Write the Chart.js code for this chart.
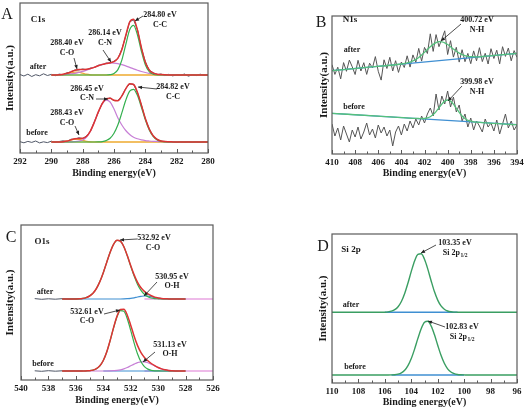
<!DOCTYPE html>
<html><head><meta charset="utf-8">
<script src="https://cdn.jsdelivr.net/npm/chart.js@4.4.1/dist/chart.umd.min.js"></script>
<style>
html,body{margin:0;padding:0;background:#fff;overflow:hidden;width:524px;height:409px;}
canvas{position:absolute;}
</style></head><body>
<canvas id="cA" width="218" height="179" style="left:0px;top:0px;width:218px;height:179px"></canvas>
<canvas id="cB" width="218" height="179" style="left:310px;top:0px;width:218px;height:179px"></canvas>
<canvas id="cC" width="224" height="206" style="left:0px;top:200px;width:224px;height:206px"></canvas>
<canvas id="cD" width="218" height="208" style="left:310px;top:200px;width:218px;height:208px"></canvas>
<script>
// ---------- Panel A : C1s ----------
const gridA = [290,289.75,289.5,289.25,289,288.75,288.5,288.25,288,287.75,287.5,287.25,287,286.75,286.5,286.25,286,285.75,285.5,285.25,285,284.75,284.5,284.25,284,283.75,283.5,283.25,283,282.75,282.5,282.25,282,281,280];
const envAfterA = [0.1,0.1,0.3,0.7,1.7,3.1,4.6,5.4,5.4,5.7,6.5,7.8,9.3,10.6,11.5,12.3,13.3,16.8,25.3,39.5,52.9,55.8,44.7,27.2,12.8,5.0,1.9,0.8,0.4,0.2,0.1,0.1,0,0,0];
const ccAfterA  = [0,0,0,0,0,0,0,0,0,0,0,0,0,0,0,0.3,1.4,5.4,14.9,30.4,45.3,49.7,40.0,23.7,10.3,3.3,0.8,0.1,0,0,0,0,0,0,0];
const cnAfterA  = [0.1,0.1,0.2,0.4,0.7,1.1,1.7,2.6,3.6,4.9,6.3,7.8,9.3,10.6,11.5,12.0,11.9,11.4,10.4,9.1,7.6,6.1,4.7,3.5,2.5,1.7,1.1,0.7,0.4,0.2,0.1,0.1,0,0,0];
const coAfterA  = [0,0,0.1,0.3,1.0,2.0,2.9,2.8,1.8,0.8,0.2,0,0,0,0,0,0,0,0,0,0,0,0,0,0,0,0,0,0,0,0,0,0,0,0];
const envBeforeA = [0,0,0,0.3,0.9,2.1,3.2,3.5,3.7,5.7,11.2,20.0,30.1,38.4,43.2,43.7,41.7,41.2,46.1,53.2,58.3,57.5,49.6,36.8,23.5,13.0,6.2,2.6,1.0,0.4,0.2,0.1,0,0,0];
const ccBeforeA  = [0,0,0,0,0,0,0,0,0,0,0,0,0.1,0.4,1.4,3.7,8.7,17.2,29.1,41.7,50.8,52.7,46.4,34.7,22.1,12.0,5.5,2.1,0.7,0.2,0.1,0,0,0,0];
const cnBeforeA  = [0,0,0,0,0,0.1,0.3,0.8,2.0,5.0,11.0,20.0,30.0,38.0,41.8,40.0,33.0,24.0,17.0,11.5,7.5,4.8,3.2,2.1,1.4,1.0,0.7,0.5,0.3,0.2,0.1,0.1,0,0,0];
const coBeforeA  = [0,0,0,0.3,0.9,2.0,2.9,2.7,1.7,0.7,0.2,0,0,0,0,0,0,0,0,0,0,0,0,0,0,0,0,0,0,0,0,0,0,0,0];
const rawEA = [292,291.75,291.5,291.25,291,290.75,290.5,290.25,290,289.75,289.5,289.25,289,288.75,288.5,288.25,288,287.75,287.5,287.25,287,286.75,286.5,286.25,286,285.75,285.5,285.25,285,284.75,284.5,284.25,284,283.75,283.5,283.25,283,282.75,282.5,282.25,282,281.75,281.5,281.25,281,280.75,280.5,280.25,280];
const rawAfterA = [0.5,-1.0,0.8,-1.5,0.3,-0.8,1.2,-0.5,0.6,-0.7,0.9,0.2,2.2,3.0,5.0,5.0,6.0,5.3,7.0,7.5,9.8,10.2,12.0,11.8,13.8,16.5,25.8,39.0,53.3,55.2,45.2,26.8,13.3,4.6,2.4,0.4,1.0,-0.6,0.7,-0.9,0.4,-0.4,1.0,-1.2,0.3,-0.6,0.8,-0.3,0.2];
const rawBeforeA = [0.3,-0.8,0.6,-0.4,1.0,-0.9,0.2,-0.6,0.8,-0.3,0.5,1.2,0.4,2.8,2.6,4.3,3.4,6.2,10.8,20.5,29.6,38.9,42.8,44.1,41.3,41.6,45.7,53.6,57.9,57.8,49.2,37.1,23.2,13.3,5.9,2.9,0.8,0.6,-0.3,0.4,-0.5,0.3,-0.2,0.5,-0.4,0.2,-0.3,0.3,0.0];
const baseEA = [290,280];
const baseVA = [0,0];

// ---------- Panel B : N1s ----------
const rawEB = [410,409.75,409.5,409.25,409,408.75,408.5,408.25,408,407.75,407.5,407.25,407,406.75,406.5,406.25,406,405.75,405.5,405.25,405,404.75,404.5,404.25,404,403.75,403.5,403.25,403,402.75,402.5,402.25,402,401.75,401.5,401.25,401,400.75,400.5,400.25,400,399.75,399.5,399.25,399,398.75,398.5,398.25,398,397.75,397.5,397.25,397,396.75,396.5,396.25,396,395.75,395.5,395.25,395,394.75,394.5,394.25,394];
const rawAfterB = [89.3,79.6,86.8,75.1,91.4,82.7,93.9,87.2,79.5,93.7,83.0,91.3,79.6,90.8,86.1,97.4,82.7,73.9,94.2,85.5,96.7,83.0,93.3,81.6,92.0,86.5,98.2,86.9,99.1,91.6,105.6,92.9,106.6,100.5,120.2,102.6,119.4,107.3,115.1,123.2,99.5,113.3,96.9,106.7,91.9,104.3,92.3,100.6,90.3,103.1,93.2,106.3,92.4,100.7,90.0,105.3,95.5,103.8,90.1,107.3,97.6,105.9,93.2,103.4,96.7];
const rawBeforeB = [30,18,26,14,28,20,12,24,17,27,15,22,31,19,25,16,29,21,27,18,24,8,22,28,19,30,23,33,26,35,29,38,31,40,46,38,60,44,58,50,63,47,57,42,49,33,40,27,36,24,33,28,22,35,27,31,23,34,20,30,40,26,33,24,29];
const fitAfterEB = [410,407,404,403.5,403.25,403,402.75,402.5,402.25,402,401.75,401.5,401.25,401,400.75,400.5,400.25,400,399.75,399.5,399.25,399,398.75,398.5,398.25,398,397.5,397,394];
const fitAfterB  = [83.3,86.6,90.0,91.2,91.9,93.1,94.6,96.6,98.9,101.6,104.5,107.2,109.6,111.4,112.3,112.1,111.2,109.5,107.3,104.9,102.7,100.9,99.3,98.3,97.6,97.3,97.2,97.5,100.7];
const fitBeforeEB = [410,406,403,402.5,402.25,402,401.75,401.5,401.25,401,400.75,400.5,400.25,400,399.75,399.5,399.25,399,398.75,398.5,398.25,398,397.75,397.5,397,394];
const fitBeforeB  = [40.7,37.9,35.7,35.5,35.4,35.5,36.1,37.2,39.4,42.4,46.1,49.9,52.9,54.0,52.9,49.8,45.7,41.6,38.0,35.4,33.7,32.8,32.2,31.9,31.4,29.3];
const bgEB = [410,394];
const bgAfterB = [83.3,100.7];
const bgBeforeB = [40.7,29.3];

// ---------- Panel C : O1s ----------
const gridC = [537,536.5,536,535.75,535.5,535.25,535,534.75,534.5,534.25,534,533.75,533.5,533.25,533,532.75,532.5,532.25,532,531.75,531.5,531.25,531,530.75,530.5,530.25,530,529.75,529.5,529.25,529,528.75,528.5,528];
const envAfterC = [0,0,0.1,0.2,0.6,1.4,3.0,5.8,10.5,17.4,26.3,36.6,46.7,54.7,58.7,57.8,52.3,43.5,33.4,24.1,16.6,11.2,7.6,5.1,3.3,1.9,1.1,0.5,0.2,0.1,0,0,0,0];
const coAfterC  = [0,0,0.1,0.2,0.6,1.4,3.0,5.8,10.5,17.4,26.3,36.6,46.7,54.7,58.7,57.8,52.2,43.2,32.8,22.9,14.6,8.6,4.6,2.3,1.0,0.4,0.2,0.1,0,0,0,0,0,0];
const ohAfterC  = [0,0,0,0,0,0,0,0,0,0,0,0,0,0,0,0,0.1,0.3,0.6,1.2,2.0,2.6,3.0,2.8,2.3,1.5,0.9,0.4,0.2,0.1,0,0,0,0];
const envBeforeC = [0,0,0,0,0,0.1,0.3,0.9,2.3,5.2,10.5,19.0,30.5,43.4,54.8,61.6,61.8,55.8,45.8,34.8,25.4,18.4,13.6,10.2,7.5,5.3,3.5,2.1,1.2,0.6,0.3,0.1,0,0];
const coBeforeC  = [0,0,0,0,0,0.1,0.3,0.9,2.3,5.2,10.5,19.0,30.4,43.1,54.2,60.4,59.7,52.3,40.6,27.9,17.0,9.2,4.4,1.9,0.7,0.2,0.1,0,0,0,0,0,0,0];
const ohBeforeC  = [0,0,0,0,0,0,0,0,0,0,0,0,0.1,0.3,0.6,1.2,2.1,3.5,5.2,6.9,8.4,9.2,9.2,8.3,6.8,5.1,3.4,2.1,1.2,0.6,0.3,0.1,0,0];
const rawEC = [539,538.5,538,537.5,537,536.5,536,535.5];
const rawAfterC = [0.4,-0.3,0.2,-0.2,0.3,0,0.1,0.4];
const rawBeforeC = [0.2,-0.3,0.3,-0.2,0.2,0,0.1,0.1];
const pinkEC = [531,526];
const blueEC = [534,528.5];
const flatC = [0,0];

// ---------- Panel D : Si 2p ----------
const gridD = [110,108,106.5,106.25,106,105.75,105.5,105.25,105,104.75,104.5,104.25,104,103.75,103.5,103.25,103,102.75,102.5,102.25,102,101.75,101.5,101.25,101,100.75,100.5,100.25,100,99.75,98,96];
const siAfterD  = [0,0,0,0,0.1,0.4,1.1,2.6,5.6,10.8,18.8,29.3,40.9,51.4,57.9,58.5,53.0,43.2,31.6,20.7,12.2,6.4,3.1,1.3,0.5,0.2,0.1,0,0,0,0,0];
const siBeforeD = [0,0,0,0,0,0,0.1,0.3,0.9,2.2,4.8,9.4,16.5,25.9,36.6,46.3,52.7,53.7,49.1,40.4,29.8,19.7,11.7,6.2,3.0,1.3,0.5,0.2,0.1,0,0,0];
const blueAfterED = [106,100.5];
const blueBeforeED = [105.5,100];
const flatD = [0,0];

// ---------- drawing ----------
const FONT = "'Liberation Serif','Times New Roman',serif";
const RED='#dd3434', GREEN='#34b04f', PURPLE='#c77fd6', ORANGE='#f0a63a', YELLOW='#f5d98b',
      RAW='#4f5666', BLUE='#3f8fd2', PINK='#de78d4', DGREEN='#3a9e62', BGREEN='#55c07c', GRAY='#555555';

function pts(E, V, off){ return E.map((e,i)=>({x:e, y:V[i] + (off||0)})); }
function smooth(data, color, w){ return {data, borderColor:color, borderWidth:w, pointRadius:0, fill:false, cubicInterpolationMode:'monotone'}; }
function jag(data, color, w){ return {data, borderColor:color, borderWidth:w, pointRadius:0, fill:false, tension:0}; }

const decor = {
  id:'decor',
  afterDraw(chart, args, o){
    const {ctx, chartArea:a} = chart; const x = chart.scales.x;
    ctx.save();
    ctx.strokeStyle='#5a5a5a'; ctx.lineWidth=1.2;
    ctx.strokeRect(a.left, a.top, a.right-a.left, a.bottom-a.top);
    ctx.lineWidth=1;
    for (let v=x.min; v<=x.max+1e-9; v+=1){
      const p = Math.round(x.getPixelForValue(v))+0.5;
      const len = (Math.round(v-x.min)%2===0)?4:2.5;
      ctx.beginPath(); ctx.moveTo(p,a.bottom); ctx.lineTo(p,a.bottom-len); ctx.stroke();
    }
    ctx.fillStyle='#1a1a1a'; ctx.textAlign='center'; ctx.textBaseline='middle';
    for (const t of o.texts){
      const size = t.size||8;
      const f = (t.bold===false?'':'bold ')+size+'px '+FONT;
      ctx.font = f;
      const px=t.x-o.ox, py=t.y-o.oy;
      if (t.sub){
        const w1 = ctx.measureText(t.s).width;
        ctx.font = 'bold '+(size*0.7)+'px '+FONT;
        const w2 = ctx.measureText(t.sub).width;
        const st = px-(w1+w2)/2;
        ctx.textAlign='left';
        ctx.fillText(t.sub, st+w1+0.5, py+2.5);
        ctx.font=f; ctx.fillText(t.s, st, py);
        ctx.textAlign='center';
      } else ctx.fillText(t.s, px, py);
    }
    ctx.strokeStyle='#222'; ctx.fillStyle='#222'; ctx.lineWidth=0.8;
    for (const [x1,y1,x2,y2] of o.arrows){
      const X1=x1-o.ox, Y1=y1-o.oy, X2=x2-o.ox, Y2=y2-o.oy;
      ctx.beginPath(); ctx.moveTo(X1,Y1); ctx.lineTo(X2,Y2); ctx.stroke();
      const g=Math.atan2(Y2-Y1,X2-X1), L=4, W=1.8, c=Math.cos(g), s=Math.sin(g);
      ctx.beginPath(); ctx.moveTo(X2,Y2);
      ctx.lineTo(X2-L*c+W*s, Y2-L*s-W*c); ctx.lineTo(X2-L*c-W*s, Y2-L*s+W*c);
      ctx.closePath(); ctx.fill();
    }
    ctx.restore();
  }
};

function build(id, ox, oy, cfg){
  return new Chart(document.getElementById(id), {
    type:'line',
    data:{datasets:cfg.datasets},
    options:{
      responsive:false, animation:false, devicePixelRatio:1,
      layout:{padding:{left:0, top:cfg.pt, right:cfg.pr, bottom:0}},
      plugins:{legend:{display:false}, tooltip:{enabled:false}, decor:{ox, oy, texts:cfg.texts, arrows:cfg.arrows}},
      scales:{
        x:{type:'linear', reverse:true, min:cfg.xmin, max:cfg.xmax,
           afterFit(s){ s.height = cfg.xh; },
           grid:{display:false, drawTicks:false}, border:{display:false},
           ticks:{stepSize:2, padding:3, autoSkip:false, maxRotation:0, color:'#1a1a1a', font:{family:FONT, size:9, weight:'bold'}},
           title:{display:true, text:'Binding energy(eV)', color:'#1a1a1a', font:{family:FONT, size:10, weight:'bold'}, padding:{top:0, bottom:0}}},
        y:{type:'linear', min:0, max:cfg.ymax,
           afterFit(s){ s.width = cfg.yw; },
           grid:{display:false, drawTicks:false}, border:{display:false},
           ticks:{display:false},
           title:{display:true, text:'Intensity(a.u.)', color:'#1a1a1a', font:{family:FONT, size:11, weight:'bold'}, padding:{top:cfg.ytp, bottom:0}}}
      }
    },
    plugins:[decor]
  });
}

const offA = {after:78, before:11};
build('cA', 0, 0, {
  xmin:280, xmax:292, ymax:150, pt:3, pr:10, yw:20, xh:26, ytp:3.4,
  datasets:[
    smooth(pts(gridA, envAfterA, offA.after), RED, 1.5),
    smooth(pts(gridA, ccAfterA, offA.after), GREEN, 1.2),
    smooth(pts(gridA, cnAfterA, offA.after), PURPLE, 1.2),
    smooth(pts(gridA, coAfterA, offA.after), ORANGE, 1.2),
    smooth(pts(gridA, envBeforeA, offA.before), RED, 1.5),
    smooth(pts(gridA, ccBeforeA, offA.before), GREEN, 1.2),
    smooth(pts(gridA, cnBeforeA, offA.before), PURPLE, 1.2),
    smooth(pts(gridA, coBeforeA, offA.before), ORANGE, 1.2),
    jag(pts(rawEA, rawAfterA, offA.after), RAW, 1),
    jag(pts(rawEA, rawBeforeA, offA.before), RAW, 1),
    jag(pts(baseEA, baseVA, offA.after), YELLOW, 2),
    jag(pts(baseEA, baseVA, offA.before), YELLOW, 2)
  ],
  texts:[
    {s:'A', x:7, y:15, size:16, bold:false},
    {s:'C1s', x:38, y:20, size:9},
    {s:'284.80 eV', x:160, y:15}, {s:'C-C', x:160, y:25},
    {s:'286.14 eV', x:105, y:33}, {s:'C-N', x:105, y:43},
    {s:'288.40 eV', x:67, y:43}, {s:'C-O', x:67, y:53},
    {s:'after', x:38, y:67},
    {s:'286.45 eV', x:87, y:89}, {s:'C-N', x:87, y:98},
    {s:'284.82 eV', x:173, y:87}, {s:'C-C', x:173, y:97},
    {s:'288.43 eV', x:67, y:113}, {s:'C-O', x:67, y:123},
    {s:'before', x:37, y:133}
  ],
  arrows:[[143,16,135,21],[103,50,111,62],[74,58,77,69],[96,99,108,99],[157,89,138,87],[75,126,79,135]]
});

build('cB', 310, 0, {
  xmin:394, xmax:410, ymax:138, pt:16, pr:11, yw:22, xh:25, ytp:7.4,
  datasets:[
    smooth(pts(fitAfterEB, fitAfterB), BGREEN, 1.3),
    smooth(pts(fitBeforeEB, fitBeforeB), BGREEN, 1.3),
    jag(pts(bgEB, bgAfterB), BLUE, 1.2),
    jag(pts(bgEB, bgBeforeB), BLUE, 1.2),
    jag(pts(rawEB, rawAfterB), GRAY, 1),
    jag(pts(rawEB, rawBeforeB), GRAY, 1)
  ],
  texts:[
    {s:'B', x:321, y:23, size:16, bold:false},
    {s:'N1s', x:350, y:20, size:9},
    {s:'after', x:352, y:50},
    {s:'400.72 eV', x:477, y:20}, {s:'N-H', x:477, y:30},
    {s:'before', x:354, y:107},
    {s:'399.98 eV', x:477, y:82}, {s:'N-H', x:477, y:92}
  ],
  arrows:[[461,24,441,41],[462,86,448,101]]
});

const offC = {after:81, before:9};
build('cC', 0, 200, {
  xmin:526, xmax:540, ymax:155, pt:25, pr:11, yw:21, xh:26, ytp:3.4,
  datasets:[
    smooth(pts(gridC, envAfterC, offC.after), RED, 1.5),
    smooth(pts(gridC, coAfterC, offC.after), GREEN, 1.2),
    smooth(pts(gridC, ohAfterC, offC.after), BLUE, 1.2),
    smooth(pts(gridC, envBeforeC, offC.before), RED, 1.5),
    smooth(pts(gridC, coBeforeC, offC.before), GREEN, 1.2),
    smooth(pts(gridC, ohBeforeC, offC.before), PURPLE, 1.2),
    jag(pts(blueEC, flatC, offC.before), BLUE, 1.2),
    jag(pts(rawEC, rawAfterC, offC.after), RAW, 1),
    jag(pts(rawEC, rawBeforeC, offC.before), RAW, 1),
    jag(pts(pinkEC, flatC, offC.after), PINK, 1.2),
    jag(pts(pinkEC, flatC, offC.before), PINK, 1.2)
  ],
  texts:[
    {s:'C', x:11, y:238, size:16, bold:false},
    {s:'O1s', x:42, y:242, size:9},
    {s:'532.92 eV', x:154, y:238}, {s:'C-O', x:153, y:248},
    {s:'530.95 eV', x:172, y:277}, {s:'O-H', x:172, y:286},
    {s:'after', x:45, y:292},
    {s:'532.61 eV', x:87, y:312}, {s:'C-O', x:87, y:321},
    {s:'531.13 eV', x:170, y:345}, {s:'O-H', x:170, y:354},
    {s:'before', x:43, y:364}
  ],
  arrows:[[137,239,120,240],[157,282,144,296],[104,314,120,310],[155,352,143,362]]
});

const offD = {after:70.7, before:8};
build('cD', 310, 200, {
  xmin:96, xmax:110, ymax:149, pt:34, pr:11, yw:22, xh:25, ytp:6.4,
  datasets:[
    smooth(pts(gridD, siAfterD, offD.after), DGREEN, 1.4),
    smooth(pts(gridD, siBeforeD, offD.before), DGREEN, 1.4),
    jag(pts(blueAfterED, flatD, offD.after), BLUE, 1.4),
    jag(pts(blueBeforeED, flatD, offD.before), BLUE, 1.4)
  ],
  texts:[
    {s:'D', x:323, y:247, size:16, bold:false},
    {s:'Si 2p', x:351, y:250, size:9},
    {s:'103.35 eV', x:455, y:243}, {s:'Si 2p', sub:'1/2', x:455, y:253},
    {s:'after', x:351, y:305},
    {s:'102.83 eV', x:462, y:327}, {s:'Si 2p', sub:'1/2', x:462, y:337},
    {s:'before', x:355, y:367}
  ],
  arrows:[[436,245,421,253],[445,327,428,321]]
});
</script>
</body></html>
